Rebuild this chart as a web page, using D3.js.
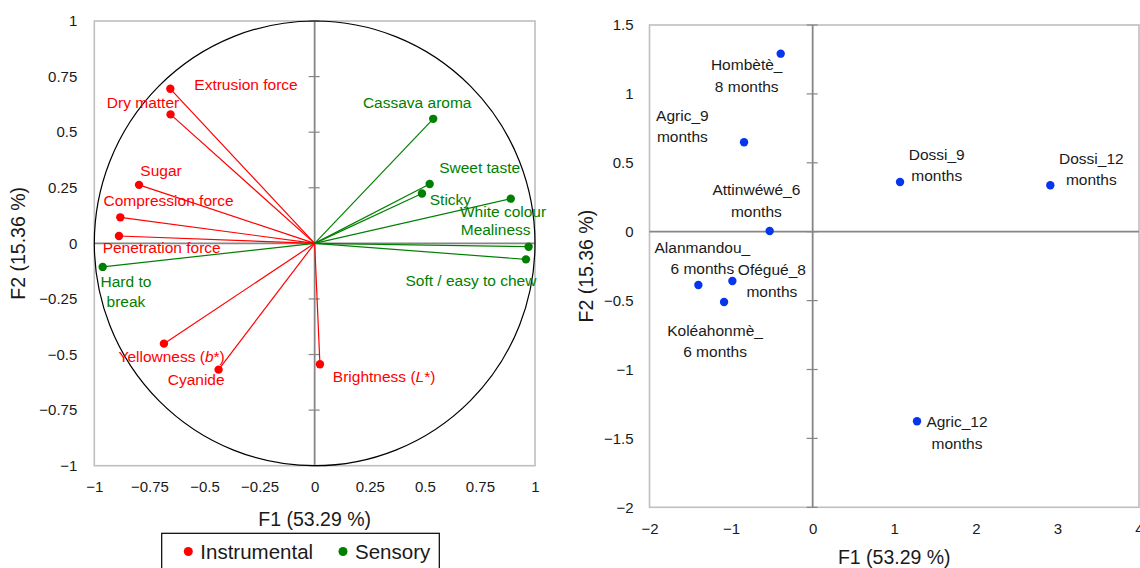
<!DOCTYPE html>
<html>
<head>
<meta charset="utf-8">
<script src="https://cdn.jsdelivr.net/npm/d3@7/dist/d3.min.js"></script>
<style>
  html, body { margin: 0; padding: 0; background: #fff; }
  svg { display: block; }
  text { font-family: "Liberation Sans", Arial, sans-serif; }
</style>
</head>
<body>
<svg id="chart" width="1140" height="568"></svg>
<script>
// ---------- Data: correlation circle (variables) ----------
const varNames = ["Extrusion force", "Dry matter", "Sugar", "Compression force", "Penetration force",
  "Hard to|break", "Yellowness (b*)", "Cyanide", "Brightness (L*)",
  "Cassava aroma", "Sweet taste", "Sticky", "White colour", "Mealiness", "Soft / easy to chew"];
const varGroup = ["Instrumental", "Instrumental", "Instrumental", "Instrumental", "Instrumental",
  "Sensory", "Instrumental", "Instrumental", "Instrumental",
  "Sensory", "Sensory", "Sensory", "Sensory", "Sensory", "Sensory"];
const varF1 = [-0.655, -0.654, -0.797, -0.882, -0.888, -0.962, -0.684, -0.436, 0.024,
  0.538, 0.522, 0.487, 0.890, 0.971, 0.959];
const varF2 = [0.695, 0.580, 0.263, 0.117, 0.033, -0.106, -0.451, -0.568, -0.544,
  0.560, 0.267, 0.224, 0.201, -0.015, -0.072];

// ---------- Data: observations ----------
const obsNames = ["Hombètè_|8 months", "Agric_9|months", "Attinwéwé_6|months", "Alanmandou_|6 months",
  "Ofégué_8|months", "Koléahonmè_|6 months", "Dossi_9|months", "Dossi_12|months", "Agric_12|months"];
const obsF1 = [-0.392, -0.841, -0.527, -1.401, -0.984, -1.086, 1.071, 2.913, 1.279];
const obsF2 = [1.292, 0.649, 0.005, -0.387, -0.358, -0.510, 0.361, 0.337, -1.376];

// ---------- Ticks / titles ----------
const leftTicks = [-1, -0.75, -0.5, -0.25, 0, 0.25, 0.5, 0.75, 1];
const rightXTicks = [-2, -1, 0, 1, 2, 3, 4];
const rightYTicks = [-2, -1.5, -1, -0.5, 0, 0.5, 1, 1.5];
const xTitle = "F1 (53.29 %)";
const yTitle = "F2 (15.36 %)";
const legendItems = ["Instrumental", "Sensory"];

// ---------- Layout (label placement, pixels) ----------
const varLabelOffset = [[75.7, -4.3], [-27.5, -12], [22, -14.3], [48.2, -16.7], [42.7, 11.7],
  [23.3, 13.7], [7.7, 12], [-22.4, 10], [64.2, 11.3],
  [-16, -16.6], [50, -16.6], [28.5, 6], [-7.7, 13], [-33, -17], [-55, 21]];
const obsLabelOffset = [[-34, 10.7], [-61.7, -27.3], [-13.3, -42], [4, -38.3], [39.5, -11.7],
  [-9, 28], [36.7, -28], [41, -27.7], [40, 0]];

const colors = { Instrumental: "#ff0000", Sensory: "#008000" };
const obsColor = "#0536ee";
const frameColor = "#bfbfbf";
const axisColor = "#868686";
const labelFont = 15.5;
const tickFont = 15;

const svg = d3.select("#chart");

// ============ LEFT: correlation circle ============
const lx = d3.scaleLinear().domain([-1, 1]).range([94.3, 535]);
const ly = d3.scaleLinear().domain([-1, 1]).range([465.7, 21]);
const L = svg.append("g");

L.append("rect").attr("x", lx(-1)).attr("y", ly(1))
  .attr("width", lx(1) - lx(-1)).attr("height", ly(-1) - ly(1))
  .attr("fill", "none").attr("stroke", frameColor).attr("stroke-width", 1.6);

// zero axes
L.append("line").attr("x1", lx(-1)).attr("x2", lx(1)).attr("y1", ly(0)).attr("y2", ly(0))
  .attr("stroke", axisColor).attr("stroke-width", 1.8);
L.append("line").attr("x1", lx(0)).attr("x2", lx(0)).attr("y1", ly(-1)).attr("y2", ly(1))
  .attr("stroke", axisColor).attr("stroke-width", 1.8);
L.selectAll(".vt").data(leftTicks).enter().append("line")
  .attr("x1", lx(0) - 6).attr("x2", lx(0) + 5)
  .attr("y1", d => ly(d)).attr("y2", d => ly(d))
  .attr("stroke", axisColor).attr("stroke-width", 1.2);

// unit circle
L.append("ellipse").attr("cx", lx(0)).attr("cy", ly(0))
  .attr("rx", lx(1) - lx(0)).attr("ry", ly(-1) - ly(0))
  .attr("fill", "none").attr("stroke", "#000").attr("stroke-width", 1.2);

// axes labels
const lAxisY = d3.axisLeft(ly).tickValues(leftTicks).tickFormat(d3.format("~g")).tickSize(0).tickPadding(17);
const gly = L.append("g").attr("transform", `translate(${lx(-1)},0)`).call(lAxisY);
const lAxisX = d3.axisBottom(lx).tickValues(leftTicks).tickFormat(d3.format("~g")).tickSize(0).tickPadding(16);
const glx = L.append("g").attr("transform", `translate(0,${ly(-1)})`).call(lAxisX);
[gly, glx].forEach(g => {
  g.select(".domain").remove();
  g.selectAll("text").attr("font-size", tickFont).attr("fill", "#1a1a1a")
    .style("font-family", "'Liberation Sans', Arial, sans-serif");
});

// vectors
const vars = varNames.map((n, i) => ({ name: n, g: varGroup[i], x: varF1[i], y: varF2[i], off: varLabelOffset[i] }));
L.selectAll(".vec").data(vars).enter().append("line")
  .attr("x1", lx(0)).attr("y1", ly(0))
  .attr("x2", d => lx(d.x)).attr("y2", d => ly(d.y))
  .attr("stroke", d => colors[d.g]).attr("stroke-width", 1.2);
L.selectAll(".dot").data(vars).enter().append("circle")
  .attr("cx", d => lx(d.x)).attr("cy", d => ly(d.y)).attr("r", 4.2)
  .attr("fill", d => colors[d.g]);

const vl = L.selectAll(".vlab").data(vars).enter().append("text")
  .attr("text-anchor", "middle").attr("font-size", labelFont)
  .attr("fill", d => colors[d.g])
  .attr("x", d => lx(d.x) + d.off[0]).attr("y", d => ly(d.y) + d.off[1])
  .attr("dominant-baseline", "central");
vl.each(function (d) {
  const t = d3.select(this);
  const lines = d.name.split("|");
  if (lines.length > 1) {
    lines.forEach((ln, k) => t.append("tspan").attr("x", lx(d.x) + d.off[0])
      .attr("dy", k === 0 ? 0 : 20.7).text(ln));
  } else {
    const m = d.name.match(/^(.*\()([A-Za-z])(\*\))$/);
    if (m) {
      t.append("tspan").text(m[1]);
      t.append("tspan").attr("font-style", "italic").text(m[2]);
      t.append("tspan").text(m[3]);
    } else t.text(d.name);
  }
});

// titles
L.append("text").attr("x", lx(0)).attr("y", 519).attr("text-anchor", "middle")
  .attr("dominant-baseline", "central").attr("font-size", 19.5).attr("fill", "#1a1a1a").text(xTitle);
L.append("text").attr("transform", `translate(18,${ly(0)}) rotate(-90)`).attr("text-anchor", "middle")
  .attr("dominant-baseline", "central").attr("font-size", 19.5).attr("fill", "#1a1a1a").text(yTitle);

// legend
const lg = L.append("g");
lg.append("rect").attr("x", 161.7).attr("y", 533.3).attr("width", 277.6).attr("height", 45)
  .attr("fill", "#fff").attr("stroke", "#000").attr("stroke-width", 1.2);
const legX = [188.3, 343];
legendItems.forEach((name, i) => {
  lg.append("circle").attr("cx", legX[i]).attr("cy", 551.5).attr("r", 4.5).attr("fill", colors[name]);
  lg.append("text").attr("x", legX[i] + 12).attr("y", 551.7).attr("dominant-baseline", "central")
    .attr("font-size", 20.5).attr("fill", "#1a1a1a").text(name);
});

// ============ RIGHT: observations ============
const rx = d3.scaleLinear().domain([-2, 4]).range([649.5, 1139]);
const ry = d3.scaleLinear().domain([-2, 1.5]).range([507.3, 25]);
const R = svg.append("g");

R.append("rect").attr("x", rx(-2)).attr("y", ry(1.5))
  .attr("width", rx(4) - rx(-2)).attr("height", ry(-2) - ry(1.5))
  .attr("fill", "none").attr("stroke", frameColor).attr("stroke-width", 1.6);
R.append("line").attr("x1", rx(-2)).attr("x2", rx(4)).attr("y1", ry(0)).attr("y2", ry(0))
  .attr("stroke", axisColor).attr("stroke-width", 1.8);
R.append("line").attr("x1", rx(0)).attr("x2", rx(0)).attr("y1", ry(-2)).attr("y2", ry(1.5))
  .attr("stroke", axisColor).attr("stroke-width", 1.8);
R.selectAll(".vt").data(rightYTicks).enter().append("line")
  .attr("x1", rx(0) - 6).attr("x2", rx(0) + 5)
  .attr("y1", d => ry(d)).attr("y2", d => ry(d))
  .attr("stroke", axisColor).attr("stroke-width", 1.2);

const rAxisY = d3.axisLeft(ry).tickValues(rightYTicks).tickFormat(d3.format("~g")).tickSize(0).tickPadding(16);
const gry = R.append("g").attr("transform", `translate(${rx(-2)},0)`).call(rAxisY);
const rAxisX = d3.axisBottom(rx).tickValues(rightXTicks).tickFormat(d3.format("~g")).tickSize(0).tickPadding(16);
const grx = R.append("g").attr("transform", `translate(0,${ry(-2)})`).call(rAxisX);
[gry, grx].forEach(g => {
  g.select(".domain").remove();
  g.selectAll("text").attr("font-size", tickFont).attr("fill", "#1a1a1a")
    .style("font-family", "'Liberation Sans', Arial, sans-serif");
});

const obs = obsNames.map((n, i) => ({ name: n, x: obsF1[i], y: obsF2[i], off: obsLabelOffset[i] }));
R.selectAll(".odot").data(obs).enter().append("circle")
  .attr("cx", d => rx(d.x)).attr("cy", d => ry(d.y)).attr("r", 4.2).attr("fill", obsColor);
const ol = R.selectAll(".olab").data(obs).enter().append("text")
  .attr("text-anchor", "middle").attr("font-size", labelFont).attr("fill", "#1a1a1a")
  .attr("y", d => ry(d.y) + d.off[1]).attr("dominant-baseline", "central");
ol.each(function (d) {
  const t = d3.select(this);
  d.name.split("|").forEach((ln, k) => t.append("tspan").attr("x", rx(d.x) + d.off[0])
    .attr("dy", k === 0 ? 0 : 21.5).text(ln));
});

R.append("text").attr("x", (rx(-2) + rx(4)) / 2).attr("y", 557).attr("text-anchor", "middle")
  .attr("dominant-baseline", "central").attr("font-size", 19.5).attr("fill", "#1a1a1a").text(xTitle);
R.append("text").attr("transform", `translate(586,${(ry(-2) + ry(1.5)) / 2}) rotate(-90)`).attr("text-anchor", "middle")
  .attr("dominant-baseline", "central").attr("font-size", 19.5).attr("fill", "#1a1a1a").text(yTitle);
</script>
</body>
</html>
